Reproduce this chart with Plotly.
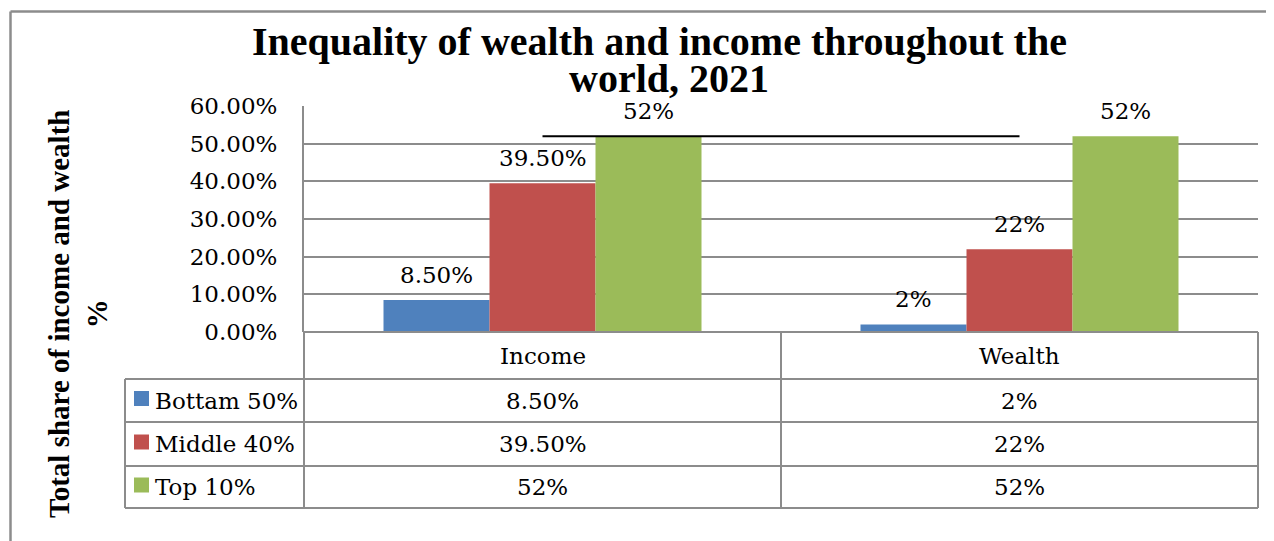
import plotly.graph_objects as go

# ---------------- data ----------------
categories = ["Income", "Wealth"]
series_names = ["Bottam 50%", "Middle 40%", "Top 10%"]
bottom_50 = [0.085, 0.02]
middle_40 = [0.395, 0.22]
top_10 = [0.52, 0.52]
series_values = [bottom_50, middle_40, top_10]
series_colors = ["#4F81BD", "#C0504D", "#9BBB59"]
y_tick_values = [0.0, 0.1, 0.2, 0.3, 0.4, 0.5, 0.6]
title_lines = ["Inequality of wealth and income throughout the", "world, 2021"]
y_title = "Total share of income and wealth<br>%"
ref_line_value = 0.52

# ---------------- layout geometry (page has an 8px body margin) ----------------
OFF = 8
W, H = 1274, 541
PLOT_X0, PLOT_X1 = 304, 1258      # target on-screen pixels
PLOT_Y0, PLOT_Y1 = 106, 332
L = PLOT_X0 - OFF
T = PLOT_Y0 - OFF
R = W - (PLOT_X1 - OFF)
B = H - (PLOT_Y1 - OFF)
PW = PLOT_X1 - PLOT_X0
PH = PLOT_Y1 - PLOT_Y0
GRID = "#8c8c8c"
BODY_FONT = "DejaVu Serif"
BOLD_FONT = "Liberation Serif"
FS = 23
BARGAP = 1 - 318 / 477


def px(x):
    return (x - PLOT_X0) / PW


def py(y):
    return (PLOT_Y1 - y) / PH


def fmt(v):
    p = v * 100
    if abs(p - round(p)) < 1e-9:
        return f"{int(round(p))}%"
    return f"{p:.2f}%"


fig = go.Figure()
for name, vals, col in zip(series_names, series_values, series_colors):
    fig.add_trace(go.Bar(
        x=categories, y=vals, name=name,
        marker=dict(color=col, line=dict(width=0)),
        showlegend=False, hoverinfo="name+y",
    ))

shapes = []
annotations = []

# outer frame (left and top edges visible)
shapes.append(dict(type="line", xref="paper", yref="paper", x0=px(10.5), x1=px(W + 20),
                   y0=py(11.5), y1=py(11.5), line=dict(color=GRID, width=2.5)))
shapes.append(dict(type="line", xref="paper", yref="paper", x0=px(10.5), x1=px(10.5),
                   y0=py(11.5), y1=py(H + 20), line=dict(color=GRID, width=2.5)))

# data table grid
row_lines = [379, 422, 466, 508]
left_col = 125
shapes.append(dict(type="line", xref="paper", yref="paper", x0=0, x1=1,
                   y0=0, y1=0, line=dict(color=GRID, width=2)))
for yl in row_lines:
    shapes.append(dict(type="line", xref="paper", yref="paper", x0=px(left_col), x1=1,
                       y0=py(yl), y1=py(yl), line=dict(color=GRID, width=2)))
for xl in [0, 1]:
    shapes.append(dict(type="line", xref="paper", yref="paper", x0=xl, x1=xl,
                       y0=0, y1=py(row_lines[-1]), line=dict(color=GRID, width=2)))
shapes.append(dict(type="line", xref="x", yref="paper", x0=0.5, x1=0.5,
                   y0=0, y1=py(row_lines[-1]), line=dict(color=GRID, width=2)))
shapes.append(dict(type="line", xref="paper", yref="paper", x0=px(left_col), x1=px(left_col),
                   y0=py(row_lines[0]), y1=py(row_lines[-1]), line=dict(color=GRID, width=2)))

# header row (category names)
header_center = (PLOT_Y1 + row_lines[0]) / 2
for i, c in enumerate(categories):
    annotations.append(dict(text=c, xref="x", yref="paper", x=i, y=py(header_center),
                            xanchor="center", yanchor="middle", showarrow=False,
                            font=dict(family=BODY_FONT, size=FS, color="black")))

# value rows + legend keys
for k, (name, vals, col) in enumerate(zip(series_names, series_values, series_colors)):
    top, bot = row_lines[k], row_lines[k + 1]
    cy = (top + bot) / 2
    for i, v in enumerate(vals):
        annotations.append(dict(text=fmt(v), xref="x", yref="paper", x=i, y=py(cy),
                                xanchor="center", yanchor="middle", showarrow=False,
                                font=dict(family=BODY_FONT, size=FS, color="black")))
    shapes.append(dict(type="rect", xref="paper", yref="paper",
                       x0=px(134), x1=px(149), y0=py(cy - 9.5), y1=py(cy + 5.5),
                       fillcolor=col, line=dict(width=0)))
    annotations.append(dict(text=name, xref="paper", yref="paper", x=px(153), y=py(cy),
                            xanchor="left", yanchor="middle", showarrow=False,
                            font=dict(family=BODY_FONT, size=FS, color="black")))

# data labels above bars
w = (1 - BARGAP) / 3
for k, vals in enumerate(series_values):
    for i, v in enumerate(vals):
        annotations.append(dict(text=fmt(v), xref="x", yref="y", x=i + (k - 1) * w, y=v,
                                xanchor="center", yanchor="bottom", yshift=10, showarrow=False,
                                font=dict(family=BODY_FONT, size=FS, color="black")))

# horizontal black line at the top-10% level between category centres
shapes.append(dict(type="line", xref="x", yref="y", x0=0, x1=1,
                   y0=ref_line_value, y1=ref_line_value, line=dict(color="black", width=2),
                   layer="above"))

# title (two lines)
annotations.append(dict(text=f"<b>{title_lines[0]}</b>", xref="paper", yref="paper",
                        x=px(659), y=py(41), xanchor="center", yanchor="middle", showarrow=False,
                        font=dict(family=BOLD_FONT, size=40, color="black")))
annotations.append(dict(text=f"<b>{title_lines[1]}</b>", xref="paper", yref="paper",
                        x=px(669), y=py(79), xanchor="center", yanchor="middle", showarrow=False,
                        font=dict(family=BOLD_FONT, size=40, color="black")))

# vertical axis title
annotations.append(dict(text=f"<b>{y_title}</b>", xref="paper", yref="paper",
                        x=px(78), y=py(314), xanchor="center", yanchor="middle",
                        textangle=-90, showarrow=False,
                        font=dict(family=BOLD_FONT, size=29, color="black")))

fig.update_layout(
    width=W, height=H,
    margin=dict(l=L, r=R, t=T, b=B, pad=0),
    paper_bgcolor="white", plot_bgcolor="white",
    barmode="group", bargap=BARGAP, bargroupgap=0,
    shapes=shapes, annotations=annotations,
    showlegend=False,
    xaxis=dict(type="category", range=[-0.5, 1.5], showticklabels=False,
               showgrid=False, showline=False, zeroline=False, ticks=""),
    yaxis=dict(range=[0, 0.6], tickvals=y_tick_values, tickformat=".2%",
               showgrid=True, gridcolor=GRID, gridwidth=2,
               showline=True, linecolor=GRID, linewidth=2, zeroline=False, ticks="",
               ticklabelstandoff=20,
               tickfont=dict(family=BODY_FONT, size=FS, color="black")),
)

fig.write_html("out.html")
